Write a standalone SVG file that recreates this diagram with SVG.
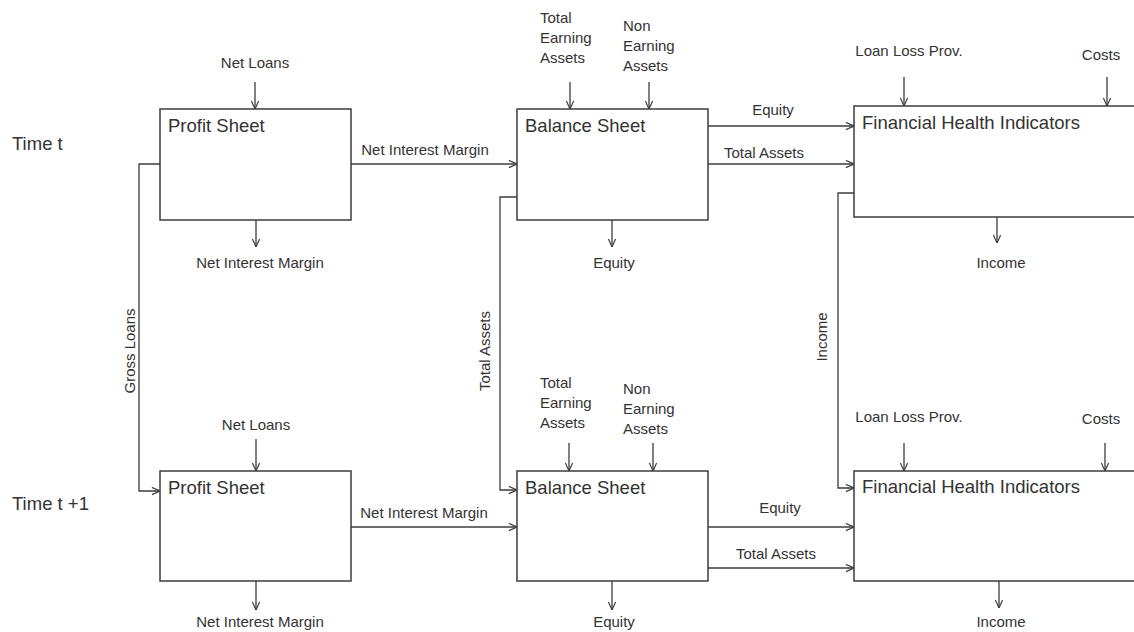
<svg xmlns="http://www.w3.org/2000/svg" width="1134" height="632" viewBox="0 0 1134 632">
<style>
.box{fill:#fff;stroke:#3c3c3c;stroke-width:1.5}
.ln{fill:none;stroke:#3c3c3c;stroke-width:1.3}
.ar{marker-end:url(#arr)}
text{font-family:"Liberation Sans",Arial,sans-serif;fill:#333}
.t{font-size:18.5px}
.s{font-size:15px}
.m{text-anchor:middle}
</style>
<defs>
<marker id="arr" viewBox="0 0 10 10" refX="10" refY="5" markerWidth="9" markerHeight="9" markerUnits="userSpaceOnUse" orient="auto">
<path d="M1,1 L10,5 L1,9" fill="none" stroke="#3c3c3c" stroke-width="1.3"/>
</marker>
</defs>
<rect width="1134" height="632" fill="#fff"/>
<g id="time-labels">
<text class="t" x="12" y="150">Time t</text>
<text class="t" x="12" y="510">Time t +1</text>
</g>
<g id="profit-t">
<rect class="box" x="160" y="109" width="191" height="111"/>
<text class="t" x="168" y="132">Profit Sheet</text>
</g>
<g id="balance-t">
<rect class="box" x="517" y="109" width="191" height="111"/>
<text class="t" x="525" y="132">Balance Sheet</text>
</g>
<g id="fhi-t">
<rect class="box" x="854" y="106" width="284" height="111"/>
<text class="t" x="862" y="129">Financial Health Indicators</text>
</g>
<g id="profit-t1">
<rect class="box" x="160" y="471" width="191" height="110"/>
<text class="t" x="168" y="494">Profit Sheet</text>
</g>
<g id="balance-t1">
<rect class="box" x="517" y="471" width="191" height="110"/>
<text class="t" x="525" y="494">Balance Sheet</text>
</g>
<g id="fhi-t1">
<rect class="box" x="854" y="471" width="284" height="110"/>
<text class="t" x="862" y="493">Financial Health Indicators</text>
</g>
<g id="connectors">
<path class="ln ar" d="M255,82 V109"/>
<path class="ln ar" d="M256,220 V247"/>
<path class="ln ar" d="M570,82 V109"/>
<path class="ln ar" d="M649,82 V109"/>
<path class="ln ar" d="M612,220 V247"/>
<path class="ln ar" d="M904,77 V106"/>
<path class="ln ar" d="M1107,77 V106"/>
<path class="ln ar" d="M997,217 V243"/>
<path class="ln ar" d="M256,439 V471"/>
<path class="ln ar" d="M256,581 V610"/>
<path class="ln ar" d="M569,443 V471"/>
<path class="ln ar" d="M653,443 V471"/>
<path class="ln ar" d="M612,581 V610"/>
<path class="ln ar" d="M904,443 V471"/>
<path class="ln ar" d="M1105,443 V471"/>
<path class="ln ar" d="M999,581 V608"/>
<path class="ln ar" d="M351,164 H517"/>
<path class="ln ar" d="M351,527 H517"/>
<path class="ln ar" d="M708,126 H854"/>
<path class="ln ar" d="M708,164 H854"/>
<path class="ln ar" d="M708,527 H854"/>
<path class="ln ar" d="M708,568 H854"/>
<path class="ln ar" d="M160,164 H139 V491 H160"/>
<path class="ln ar" d="M517,197 H500 V490 H517"/>
<path class="ln ar" d="M854,193 H838 V488 H854"/>
</g>
<g id="labels" class="s">
<text class="s m" x="255" y="68">Net Loans</text>
<text class="s m" x="260" y="268">Net Interest Margin</text>
<text class="s" x="540" y="23">Total</text>
<text class="s" x="540" y="43">Earning</text>
<text class="s" x="540" y="63">Assets</text>
<text class="s" x="623" y="31">Non</text>
<text class="s" x="623" y="51">Earning</text>
<text class="s" x="623" y="71">Assets</text>
<text class="s m" x="614" y="268">Equity</text>
<text class="s m" x="909" y="56">Loan Loss Prov.</text>
<text class="s m" x="1101" y="60">Costs</text>
<text class="s m" x="1001" y="268">Income</text>
<text class="s m" x="425" y="155">Net Interest Margin</text>
<text class="s m" x="773" y="115">Equity</text>
<text class="s m" x="764" y="158">Total Assets</text>
<text class="s m" x="135" y="351" transform="rotate(-90 135 351)">Gross Loans</text>
<text class="s m" x="490" y="351" transform="rotate(-90 490 351)">Total Assets</text>
<text class="s m" x="827" y="337" transform="rotate(-90 827 337)">Income</text>
<text class="s m" x="256" y="430">Net Loans</text>
<text class="s m" x="260" y="627">Net Interest Margin</text>
<text class="s" x="540" y="388">Total</text>
<text class="s" x="540" y="408">Earning</text>
<text class="s" x="540" y="428">Assets</text>
<text class="s" x="623" y="394">Non</text>
<text class="s" x="623" y="414">Earning</text>
<text class="s" x="623" y="434">Assets</text>
<text class="s m" x="614" y="627">Equity</text>
<text class="s m" x="909" y="422">Loan Loss Prov.</text>
<text class="s m" x="1101" y="424">Costs</text>
<text class="s m" x="1001" y="627">Income</text>
<text class="s m" x="424" y="518">Net Interest Margin</text>
<text class="s m" x="780" y="513">Equity</text>
<text class="s m" x="776" y="559">Total Assets</text>
</g>
</svg>
